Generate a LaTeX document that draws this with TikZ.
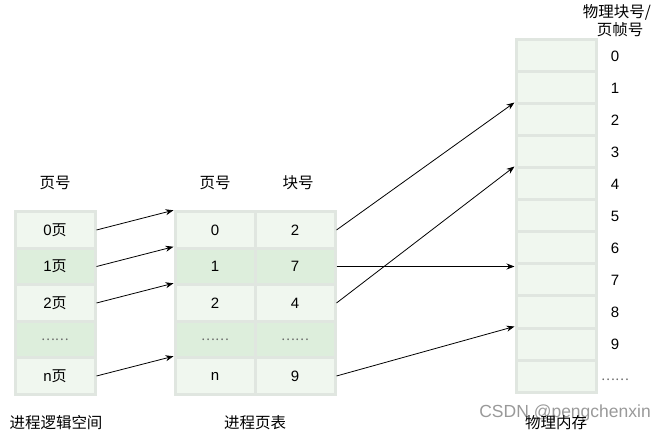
\documentclass[tikz,border=0pt]{standalone}
\usepackage{fontspec}
\setmainfont{Liberation Sans}
\newfontfamily\cjk{Noto Sans CJK SC}
\usetikzlibrary{arrows.meta,calc}
\definecolor{cellline}{HTML}{E0E6E0}
\definecolor{celllite}{HTML}{F0F7EF}
\definecolor{celldark}{HTML}{DDEEDC}
\tikzset{
  >={Stealth[length=8pt,width=6pt]},
  cell/.style={draw=cellline,line width=3pt,minimum width=80pt,
    minimum height=36.5pt,inner sep=0pt,font=\fontsize{15}{18}\selectfont},
  lite/.style={cell,fill=celllite},
  dark/.style={cell,fill=celldark},
  memcell/.style={cell,fill=celllite,minimum height=32pt},
  lbl/.style={font=\fontsize{15.5}{18}\selectfont\cjk,inner sep=1pt},
  num/.style={font=\fontsize{15}{18}\selectfont,inner sep=1pt},
  dots/.style={font=\fontsize{13}{15}\selectfont\cjk,text=black!60},
  map/.style={->,line width=0.8pt},
}
\begin{document}
\begin{tikzpicture}[x=1pt,y=-1pt]
  \useasboundingbox (0,0) rectangle (665,433);
  % process logical space
  \foreach \i/\s in {0/lite,1/dark,2/lite,3/dark,4/lite} {
    \node[\s] (l\i) at (55,{230+36.5*\i}) {};
  }
  \node[num] at (l0) {0{\cjk 页}};
  \node[num] at (l1) {1{\cjk 页}};
  \node[num] at (l2) {2{\cjk 页}};
  \node[dots] at (l3) {……};
  \node[num] at (l4) {n{\cjk 页}};
  % page table
  \foreach \i/\pg/\fr/\s in {0/0/2/lite,1/1/7/dark,2/2/4/lite,4/n/9/lite} {
    \node[\s,num] (p\i) at (215,{230+36.5*\i}) {\pg};
    \node[\s,num] (f\i) at (295,{230+36.5*\i}) {\fr};
  }
  \node[dark,dots] (p3) at (215,{230+36.5*3}) {……};
  \node[dark,dots] (f3) at (295,{230+36.5*3}) {……};
  % physical memory
  \foreach \k in {0,...,10} {
    \node[memcell] (m\k) at (556,{56+32*\k}) {};
  }
  \foreach \k in {0,...,9} {
    \node[num] (n\k) at (615,{56+32*\k}) {\k};
  }
  \node[dots] (n10) at (615,380) {……};
  % headings
  \node[lbl] (hl) at (55,183) {页号};
  \node[lbl] (hp) at (215,183) {页号};
  \node[lbl] (hf) at (298,183) {块号};
  \node[lbl] (hm) at (617,12) {物理块号/};
  \node[lbl] (hm2) at (620,30) {页帧号};
  \node[lbl] (tl) at (56,423) {进程逻辑空间};
  \node[lbl] (tp) at (255,423) {进程页表};
  \node[font=\fontsize{17.5}{20}\selectfont,inner sep=1pt,text=black!40,
    anchor=east] (wm) at (652,413) {CSDN @pengchenxin};
  \node[lbl] (tm) at (556,423) {物理内存};
  % mappings
  \foreach \i in {0,1,2,4} {
    \draw[map] (l\i.east) -- (p\i.north west);
  }
  \draw[map] (f0.east) -- (m2.north west);
  \draw[map] (f1.east) -- (f1.east -| m7.west);
  \draw[map] (f2.east) -- (m4.north west);
  \draw[map] (f4.east) -- (m9.north west);
\end{tikzpicture}
\end{document}
